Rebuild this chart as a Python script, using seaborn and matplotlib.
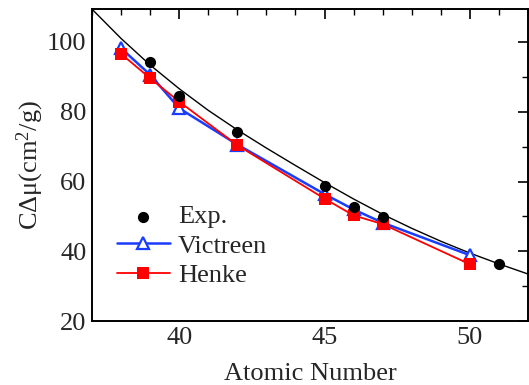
import matplotlib
matplotlib.use("Agg")
import matplotlib.pyplot as plt
import seaborn as sns
import numpy as np
import pandas as pd
from matplotlib.ticker import MultipleLocator

# Data
exp_z = [39, 40, 42, 45, 46, 47, 51]
exp_val = [94.2, 84.4, 74.2, 58.7, 52.8, 49.9, 36.4]

vic_z = [38, 39, 40, 42, 45, 46, 47, 50]
vic_val = [98.2, 90.6, 81.0, 70.6, 56.4, 52.0, 48.2, 38.9]

henke_z = [38, 39, 40, 42, 45, 46, 47, 50]
henke_val = [96.6, 89.6, 82.9, 70.4, 55.1, 50.3, 47.8, 36.3]

fit_z = [37, 38, 39, 40, 41, 42, 43, 44, 45, 46, 47, 48, 49, 50, 51, 52]
fit_val = [109.4, 101.0, 93.4, 86.6, 80.4, 74.8, 69.6, 64.6, 59.7, 55.0, 50.6, 46.6, 42.9, 39.5, 36.4, 33.5]

sns.set_theme(style="white")
plt.rcParams['font.family'] = 'serif'
plt.rcParams['font.serif'] = ['Liberation Serif', 'DejaVu Serif']
plt.rcParams['mathtext.fontset'] = 'custom'
plt.rcParams['mathtext.rm'] = 'Liberation Serif'
plt.rcParams['mathtext.it'] = 'Liberation Serif:italic'

fig, ax = plt.subplots(figsize=(5.29, 3.85), dpi=100)
fig.subplots_adjust(left=0.174, right=0.998, top=0.977, bottom=0.166)

sns.lineplot(x=fit_z, y=fit_val, ax=ax, color='black', lw=1.0, legend=False)
sns.lineplot(x=vic_z, y=vic_val, ax=ax, color='#1a3cff', lw=1.8, marker='^',
             markersize=9, markerfacecolor='white', markeredgecolor='#1a3cff',
             markeredgewidth=1.6, label='Victreen')
sns.lineplot(x=henke_z, y=henke_val, ax=ax, color='#ff0000', lw=1.3, marker='s',
             markersize=8, markeredgewidth=0, label='Henke')
sns.scatterplot(x=exp_z, y=exp_val, ax=ax, color='black', s=65, edgecolor='black',
                linewidth=0, label='Exp.', zorder=5)

ax.set_xlim(37, 52)
ax.set_ylim(20, 109.5)
ax.xaxis.set_major_locator(MultipleLocator(5))
ax.xaxis.set_minor_locator(MultipleLocator(1))
ax.yaxis.set_major_locator(MultipleLocator(20))
ax.yaxis.set_minor_locator(MultipleLocator(10))
ax.tick_params(which='both', direction='in', top=True, right=True, color='black')
ax.tick_params(which='major', length=7, width=1.2, labelsize=19, pad=4)
ax.tick_params(which='minor', length=4, width=1.0)
for s in ax.spines.values():
    s.set_color('black')
    s.set_linewidth(1.4)

ax.set_xlabel('Atomic Number', fontsize=19, labelpad=10)
ax.set_ylabel('CΔμ(cm$^2$/g)', fontsize=19, labelpad=1)

handles, labels = ax.get_legend_handles_labels()
order = [labels.index('Exp.'), labels.index('Victreen'), labels.index('Henke')]
ax.legend([handles[i] for i in order], [labels[i] for i in order],
          loc='lower left', bbox_to_anchor=(0.015, 0.05), frameon=False, fontsize=19,
          handlelength=2.0, handletextpad=0.3, labelspacing=0.22, borderpad=0.2)

fig.savefig('out.png', dpi=100)
